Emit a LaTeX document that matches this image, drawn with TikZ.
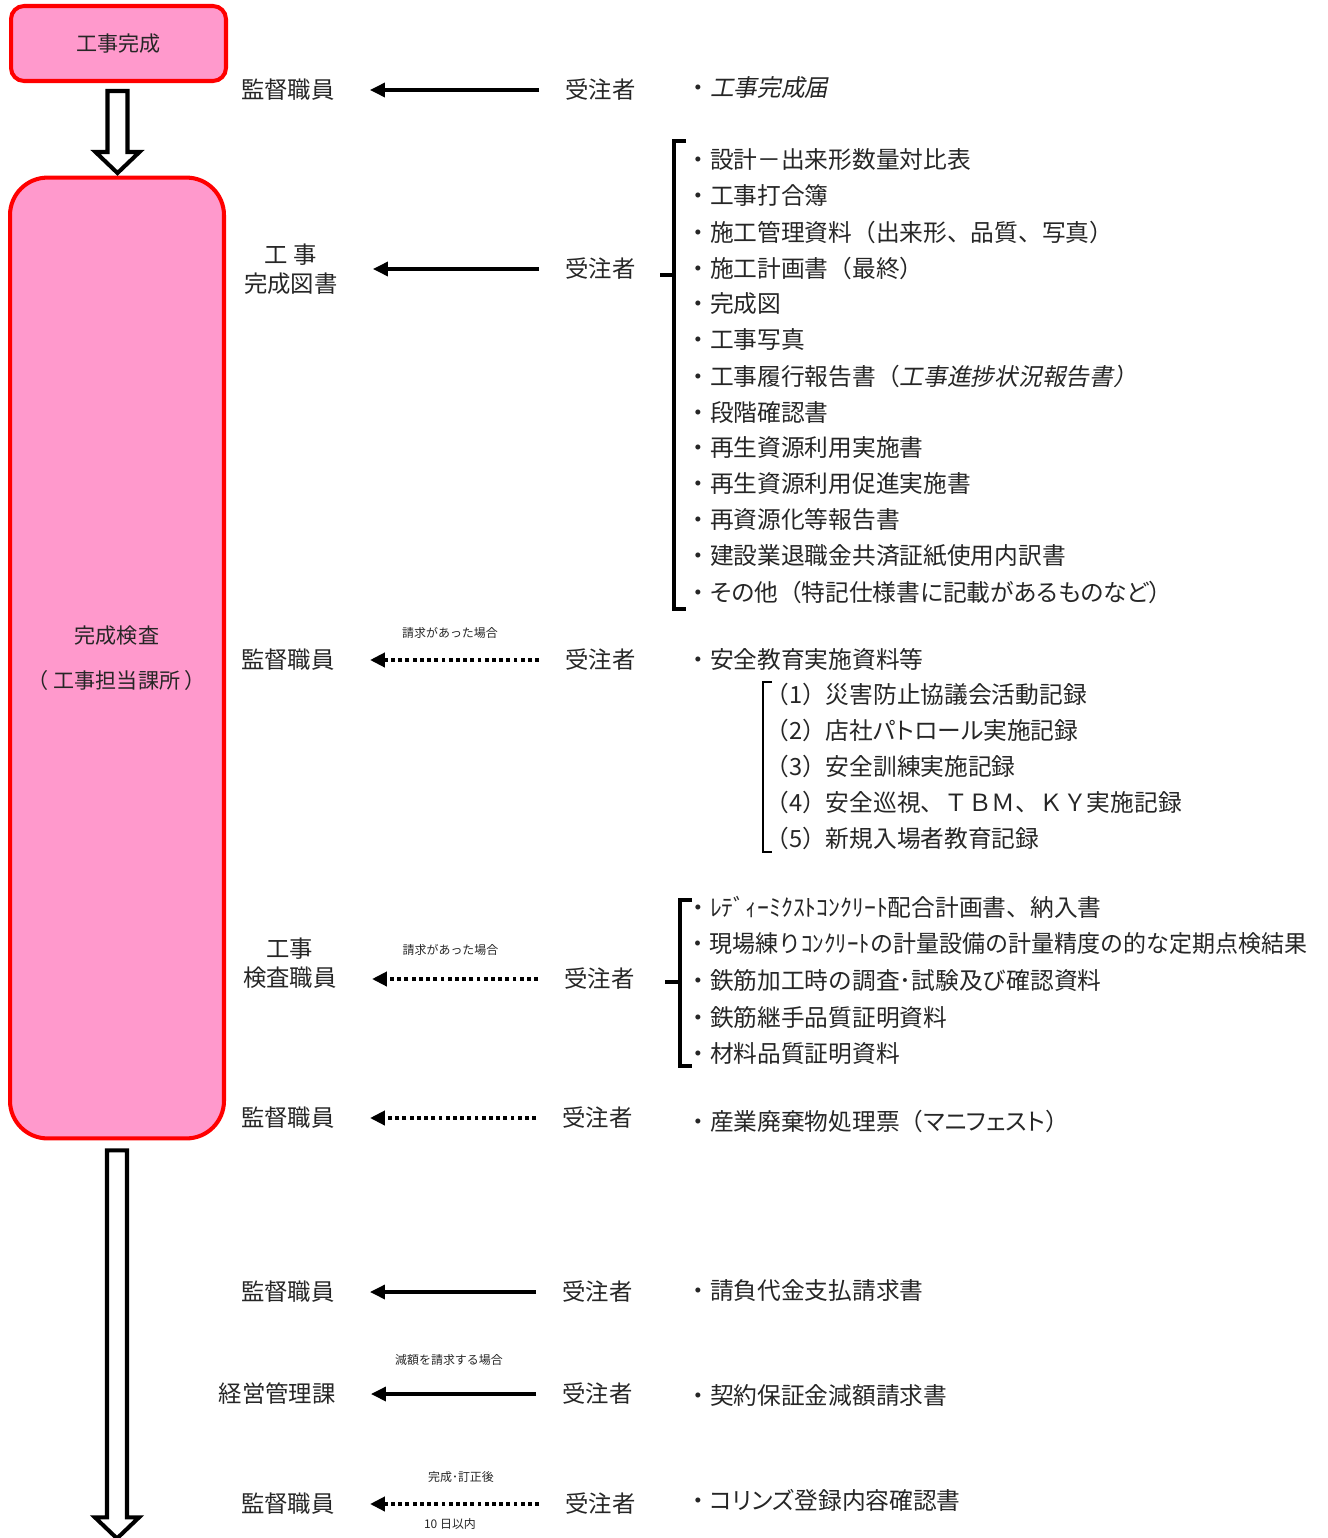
\documentclass[tikz,border=0pt]{standalone}
\usepackage{fontspec}
\setmainfont{Noto Sans CJK JP}
\newfontfamily\itf{Noto Sans CJK JP}[FakeSlant=0.2]
\newfontfamily\narrowf{Noto Sans CJK JP}[FakeStretch=0.97]
\newfontfamily\pk{Noto Sans CJK JP}[RawFeature=+palt]
\usetikzlibrary{arrows.meta,positioning}
\definecolor{boxpink}{HTML}{FF99CC}
\definecolor{boxred}{HTML}{FF0000}
\definecolor{ink}{HTML}{262626}
\tikzset{
	stagebox/.style={draw=boxred,line width=2.3pt,fill=boxpink,text=ink,align=center,inner sep=0pt,font=\fontsize{12}{26}\selectfont},
	who/.style={text=ink,inner sep=0pt,align=center,font=\fontsize{13.3}{16.5}\selectfont},
	item/.style={anchor=west,text=ink,inner sep=0pt,font=\fontsize{13.5}{16}\selectfont},
	note/.style={text=ink,inner sep=0pt,font=\fontsize{6.8}{8}\selectfont},
	solidarr/.style={-{Triangle[length=8.5pt,width=8pt]},line width=1.8pt,shorten <=0.52cm,shorten >=0.7cm},
	dotarr/.style={solidarr,line width=2.2pt,dash pattern=on 2.2pt off 1.9pt},
	hollow/.style={draw,line width=2.3pt,fill=white},
	brace/.style={line width=1.8pt},
}
\begin{document}
\begin{tikzpicture}[x=0.02cm,y=-0.02cm]
	\useasboundingbox (0,0) rectangle (1328,1538);
	% stages
	\node[stagebox,rounded corners=0.26cm,minimum width=4.3cm,minimum height=1.5cm] (b1) at (118.5,43.5) {工事完成};
	\node[stagebox,rounded corners=0.75cm,minimum width=4.28cm,minimum height=19.22cm] (b2) at (117,658) {完成検査\\（ 工事担当課所 ）};
	\draw[hollow] (b1.south) ++(-11,8) -- ++(0,61) -- ++(-12,0) -- ++(22,21) -- ++(22,-21) -- ++(-12,0) -- ++(0,-61) -- cycle;
	\draw[hollow] (b2.south) ++(-10,10) -- ++(0,367) -- ++(-12,0) -- ++(22,21) -- ++(22,-21) -- ++(-12,0) -- ++(0,-367) -- cycle;
	% row 1
	\node[who,anchor=east] (s1) at (335,90) {監督職員};
	\node[who,anchor=west] (j1) at (565,90) {受注者};
	\draw[solidarr] (j1.west) -- (s1.east);
	\node[item] (a1) at (686,88) {・{\itf 工事完成届}};
	% row 2
	\node[who,anchor=east] (s2) at (338,269) {工 事\\完成図書};
	\node[who,anchor=west] (j2) at (565,269) {受注者};
	\draw[solidarr] (j2.west) -- (s2.east);
	\draw[brace] (686,141) -- (674,141) -- (674,609) -- (686,609) (660,275) -- (674,275);
	\foreach \txt [count=\i from 0] in {・設計－出来形数量対比表,・工事打合簿,・施工管理資料（出来形、品質、写真）,・施工計画書（最終）,・完成図,・工事写真,{・工事履行報告書（{\itf 工事進捗状況報告書）}},・段階確認書,・再生資源利用実施書,・再生資源利用促進実施書,・再資源化等報告書,・建設業退職金共済証紙使用内訳書,{・{\pk その他}（{\pk 特記仕様書に記載があるものなど}）}}
		\node[item] (d\i) at (686,160+36*\i) {\txt};
	% row 3
	\node[who,anchor=east] (s3) at (335,660) {監督職員};
	\node[who,anchor=west] (j3) at (565,660) {受注者};
	\draw[dotarr] (j3.west) -- node[note,midway,above=0.4cm] {請求があった場合} (s3.east);
	\node[item] (a3) at (686,659) {・安全教育実施資料等};
	\draw[line width=1pt] (772,682) -- (763,682) -- (763,852) -- (772,852);
	\foreach \txt [count=\i from 0] in {（1）災害防止協議会活動記録,{（2）{\pk 店社パトロール実施記録}},（3）安全訓練実施記録,（4）安全巡視、ＴＢＭ、ＫＹ実施記録,（5）新規入場者教育記録}
		\node[item] (e\i) at (765,694+36.2*\i) {\txt};
	% row 4
	\node[who,anchor=east] (s4) at (337,963) {工事\\検査職員};
	\node[who,anchor=west] (j4) at (564,979) {受注者};
	\draw[dotarr] (j4.west) -- node[note,midway,above=0.44cm] {請求があった場合} (j4.west -| s4.east);
	\draw[brace] (692,900) -- (680,900) -- (680,1066) -- (692,1066) (665,982) -- (680,982);
	\foreach \txt [count=\i from 0] in {・ﾚﾃﾞｨｰﾐｸｽﾄｺﾝｸﾘｰﾄ配合計画書、納入書,{{\narrowf ・現場練りｺﾝｸﾘｰﾄの計量設備の計量精度の的な定期点検結果}},・鉄筋加工時の調査･試験及び確認資料,・鉄筋継手品質証明資料,・材料品質証明資料}
		\node[item] (f\i) at (686,907+36.7*\i) {\txt};
	% row 5
	\node[who,anchor=east] (s5) at (335,1118) {監督職員};
	\node[who,anchor=west] (j5) at (562,1118) {受注者};
	\draw[dotarr] (j5.west) -- (s5.east);
	\node[item] (a5) at (686,1121) {・産業廃棄物処理票（{\pk マニフェスト}）};
	% row 6
	\node[who,anchor=east] (s6) at (335,1292) {監督職員};
	\node[who,anchor=west] (j6) at (562,1292) {受注者};
	\draw[solidarr] (j6.west) -- (s6.east);
	\node[item] (a6) at (686,1290) {・請負代金支払請求書};
	% row 7
	\node[who,anchor=east] (s7) at (336,1394) {経営管理課};
	\node[who,anchor=west] (j7) at (562,1394) {受注者};
	\draw[solidarr] (j7.west) -- node[note,midway,above=0.54cm] {減額を請求する場合} (s7.east);
	\node[item] (a7) at (686,1395) {・契約保証金減額請求書};
	% row 8
	\node[who,anchor=east] (s8) at (335,1504) {監督職員};
	\node[who,anchor=west] (j8) at (565,1504) {受注者};
	\draw[dotarr,line width=2.6pt] (j8.west) -- node[note,midway,above=0.38cm,xshift=0.22cm] {完成･訂正後} node[note,midway,below=0.24cm] {10 日以内} (s8.east);
	\node[item] (a8) at (686,1500) {・{\pk コリンズ}登録内容確認書};
\end{tikzpicture}
\end{document}
